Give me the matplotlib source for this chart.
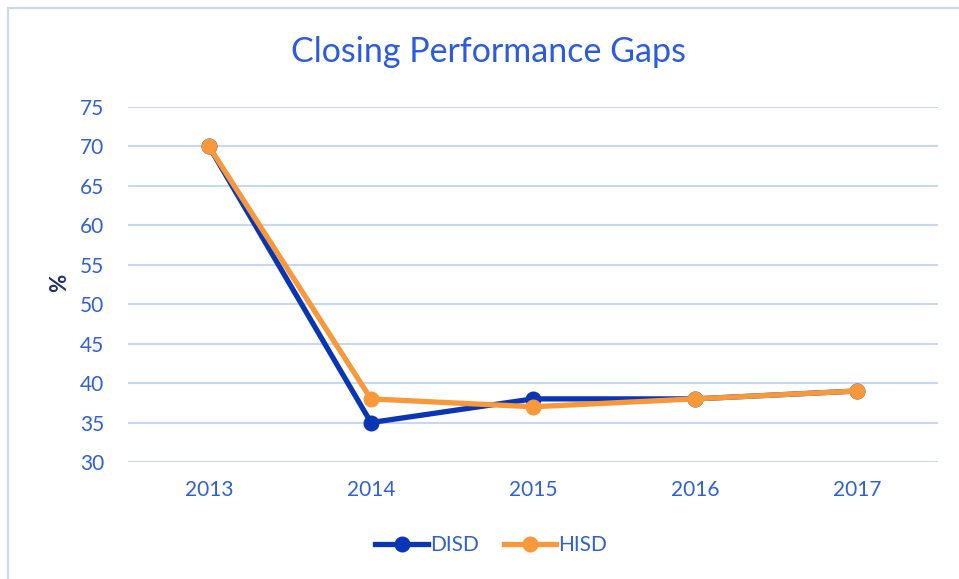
import matplotlib
matplotlib.use("Agg")
import matplotlib.pyplot as plt
from matplotlib.patches import Rectangle
from matplotlib.lines import Line2D

years = ["2013", "2014", "2015", "2016", "2017"]
disd = [70, 35, 38, 38, 39]
hisd = [70, 38, 37, 38, 39]
yticks = [30, 35, 40, 45, 50, 55, 60, 65, 70, 75]

plt.rcParams['font.family'] = ['Lato', 'DejaVu Sans']

W, H = 959, 579
fig = plt.figure(figsize=(W/100, H/100), dpi=100)
fig.patch.set_facecolor('white')

# border (cropped at right/bottom)
fig.patches.append(Rectangle((8/W, -0.1), 1.2, 1 - 8/H + 0.1, transform=fig.transFigure,
                             fill=False, edgecolor='#C9D7F5', linewidth=1.5))

ax = fig.add_axes([128/W, 1 - 462/H, (938-128)/W, (462-107)/H])
x = list(range(len(years)))
dblue = '#0A35B5'
orange = '#F7993A'
tickc = '#2F5FDB'
LW, MS = 3.8, 10.5

ax.plot(x, disd, color=dblue, lw=LW, marker='o', ms=MS, zorder=3, label='DISD',
        solid_capstyle='round', solid_joinstyle='round')
ax.plot(x, hisd, color=orange, lw=LW, marker='o', ms=MS, zorder=4, label='HISD',
        solid_capstyle='round', solid_joinstyle='round')

ax.set_xlim(-0.5, len(years) - 0.5)
ax.set_ylim(30, 75)
ax.set_yticks(yticks)
ax.set_xticks(x)
ax.set_xticklabels(years)
ax.grid(axis='y', color='#C9D7F5', lw=1.5)
ax.set_axisbelow(True)
for s in ax.spines.values():
    s.set_visible(False)
ax.tick_params(length=0, labelsize=15, colors=tickc)
ax.tick_params(axis='y', pad=17)
ax.tick_params(axis='x', pad=13)

fig.text(488/W, 1 - 52/H, 'Closing Performance Gaps', ha='center', va='center',
         fontsize=24.5, color='#2B5BE0')
fig.text(60/W, 1 - 283/H, '%', ha='center', va='center', rotation=90,
         fontsize=16, fontweight='bold', color='#1C2E6E')

handles = [Line2D([], [], color=dblue, lw=LW, marker='o', ms=MS),
           Line2D([], [], color=orange, lw=LW, marker='o', ms=MS)]
leg = fig.legend(handles, ['DISD', 'HISD'], loc='center', bbox_to_anchor=(491/W, 1 - 545/H),
                 ncol=2, frameon=False, fontsize=15, handlelength=2.5, handletextpad=0.1,
                 columnspacing=1.2)
for t in leg.get_texts():
    t.set_color(tickc)

fig.savefig('out.png', dpi=100)
